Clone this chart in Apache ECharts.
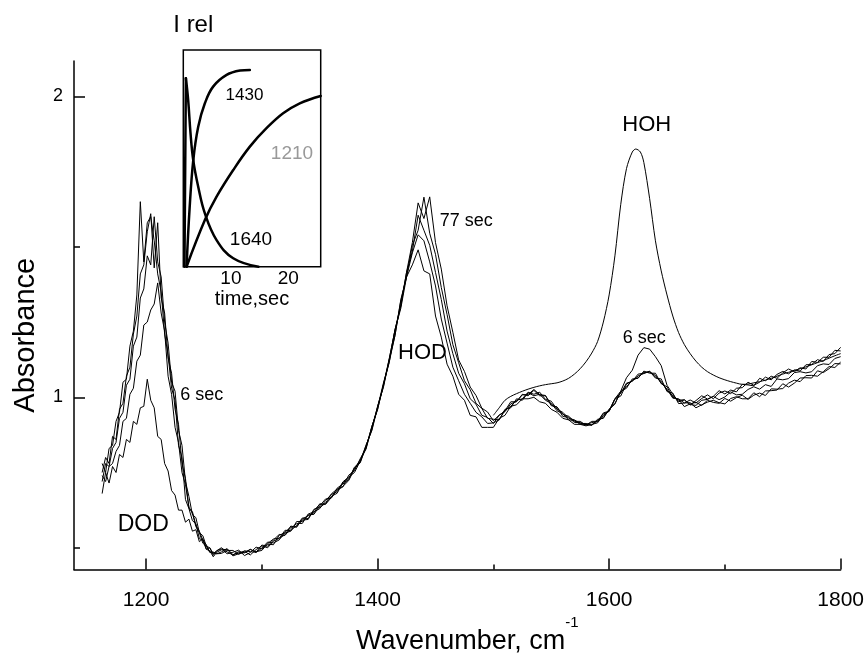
<!DOCTYPE html>
<html>
<head>
<meta charset="utf-8">
<style>
  html, body { margin: 0; padding: 0; background: #fff; }
  #chart { width: 867px; height: 660px; }
</style>
<script src="https://cdn.jsdelivr.net/npm/echarts@6.0.0/dist/echarts.min.js"></script>
</head>
<body>
<div id="chart"></div>
<script>
// ---- Spectra: wavenumber grid (cm-1) ----
// 3 cm-1 steps across the DOD band, 5 cm-1 steps from 1265 to 1800
const wnDod = [1162,1165,1168,1171,1174,1177,1180,1183,1186,1189,
               1192,1195,1198,1201,1204,1207,1210,1213,1216,1219,
               1222,1225,1228,1231,1234,1237,1240,1243,1246,1249,
               1252,1255,1258,1261];
const wnMain = [1265,1270,1275,1280,1285,1290,1295,1300,1305,1310,
                1315,1320,1325,1330,1335,1340,1345,1350,1355,1360,
                1365,1370,1375,1380,1385,1390,1395,1400,1405,1410,
                1415,1420,1425,1430,1435,1440,1445,1450,1455,1460,
                1465,1470,1475,1480,1485,1490,1495,1500,1505,1510,
                1515,1520,1525,1530,1535,1540,1545,1550,1555,1560,
                1565,1570,1575,1580,1585,1590,1595,1600,1605,1610,
                1615,1620,1625,1630,1635,1640,1645,1650,1655,1660,
                1665,1670,1675,1680,1685,1690,1695,1700,1705,1710,
                1715,1720,1725,1730,1735,1740,1745,1750,1755,1760,
                1765,1770,1775,1780,1785,1790,1795,1800];

// ---- Absorbance, spectrum after 6 s ----
const abs06Dod = [.68,.75,.715,.77,.75,.81,.80,.86,.85,.92,
                  .91,.965,.97,1.06,.99,.965,.87,.86,.78,.755,
                  .69,.675,.625,.625,.585,.595,.555,.56,.52,.53,
                  .495,.50,.475,.49];
const abs06Main = [.496,.480,.485,.492,.474,.484,.502,.496,.512,.510,
                   .542,.549,.555,.587,.587,.609,.611,.639,.662,.665,
                   .692,.702,.741,.756,.796,.831,.903,.959,1.043,1.115,
                   1.225,1.295,1.40,1.44,1.49,1.42,1.41,1.27,1.20,1.11,
                   1.07,1.01,.99,.94,.935,.90,.90,.90,.93,.94,
                   .97,.975,.995,.995,1.0,.985,.98,.96,.95,.93,
                   .925,.91,.91,.905,.91,.915,.94,.955,.995,1.02,
                   1.065,1.09,1.14,1.165,1.16,1.135,1.105,1.04,1.01,.985,
                   .991,.974,.989,1.005,.994,1.003,1.022,1.011,1.024,1.018,
                   1.043,1.041,1.038,1.063,1.055,1.070,1.063,1.081,1.094,1.085,
                   1.098,1.094,1.119,1.116,1.133,1.133,1.156,1.154];

// ---- Absorbance, second spectrum ----
const absB_Dod = [.74,.72,.77,.78,.82,.84,.92,.93,1.01,1.03,
                  1.12,1.14,1.24,1.25,1.29,1.31,1.38,1.28,1.22,1.07,
                  1.01,.90,.85,.75,.71,.635,.615,.57,.55,.515,
                  .505,.485,.485,.48];
const absB_Main = [.486,.497,.477,.483,.488,.476,.494,.506,.500,.522,
                   .531,.558,.557,.574,.599,.597,.624,.644,.646,.671,
                   .681,.716,.731,.765,.782,.840,.892,.971,1.033,1.124,
                   1.205,1.32,1.40,1.48,1.54,1.52,1.45,1.37,1.26,1.18,
                   1.10,1.055,1.01,.98,.95,.935,.913,.915,.925,.96,
                   .965,.995,.99,1.015,1.005,1.01,.99,.98,.955,.945,
                   .925,.923,.91,.91,.907,.923,.933,.96,.98,1.017,
                   1.035,1.057,1.065,1.083,1.083,1.073,1.047,1.027,.997,.995,
                   .981,.991,.981,.996,1.008,.995,1.014,1.021,1.012,1.030,
                   1.032,1.050,1.040,1.050,1.067,1.058,1.076,1.086,1.078,1.091,
                   1.087,1.108,1.109,1.125,1.119,1.142,1.145,1.166];

// ---- Absorbance, third spectrum ----
const absC_Dod = [.72,.78,.77,.83,.85,.93,.95,1.04,1.06,1.17,
                  1.20,1.33,1.36,1.47,1.44,1.60,1.45,1.40,1.25,1.18,
                  1.05,1.02,.89,.84,.72,.67,.61,.60,.55,.54,
                  .505,.50,.48,.49];
const absC_Main = [.500,.486,.476,.487,.483,.495,.484,.499,.519,.516,
                   .526,.552,.569,.570,.592,.594,.628,.634,.648,.679,
                   .695,.704,.723,.762,.792,.828,.900,.968,1.036,1.126,
                   1.224,1.306,1.415,1.485,1.605,1.555,1.505,1.415,1.325,1.22,
                   1.145,1.08,1.045,.995,.977,.94,.933,.913,.94,.955,
                   .985,.985,1.01,1.005,1.023,1.005,1.005,.975,.967,.943,
                   .937,.92,.92,.907,.92,.92,.945,.953,.995,1.013,
                   1.047,1.053,1.077,1.08,1.087,1.067,1.053,1.023,1.005,.99,
                   .992,.976,.973,.990,.993,1.003,.992,1.001,1.018,1.008,
                   1.010,1.026,1.035,1.027,1.042,1.036,1.061,1.058,1.062,1.082,
                   1.085,1.081,1.085,1.105,1.111,1.109,1.129,1.135];

// ---- Absorbance, fourth spectrum ----
const absD_Dod = [.75,.80,.78,.87,.86,.96,.98,1.07,1.10,1.21,
                  1.27,1.41,1.44,1.55,1.61,1.43,1.58,1.33,1.28,1.13,
                  1.08,.96,.91,.78,.73,.63,.62,.575,.555,.525,
                  .51,.485,.485,.48];
const absD_Main = [.481,.491,.491,.478,.490,.487,.485,.509,.505,.526,
                   .544,.541,.564,.580,.581,.612,.619,.630,.657,.677,
                   .686,.719,.735,.750,.788,.841,.889,.967,1.047,1.117,
                   1.206,1.324,1.40,1.505,1.555,1.665,1.545,1.475,1.365,1.275,
                   1.175,1.115,1.055,1.025,.98,.963,.93,.927,.925,.957,
                   .97,.99,.995,1.017,1.01,1.017,.993,.987,.96,.95,
                   .93,.925,.913,.913,.907,.927,.93,.96,.977,1.02,
                   1.03,1.061,1.063,1.087,1.08,1.08,1.045,1.035,1.0,.993,
                   .969,.978,.983,.973,.990,.983,.980,.996,.987,.999,
                   1.007,.993,1.007,1.014,1.006,1.028,1.027,1.029,1.047,1.057,
                   1.052,1.072,1.073,1.070,1.085,1.102,1.099,1.117];

// ---- Absorbance, spectrum after 77 s ----
const abs77Dod = [.78,.75,.83,.84,.92,.95,1.05,1.06,1.17,1.22,
                  1.34,1.65,1.45,1.58,1.60,1.52,1.41,1.35,1.21,1.14,
                  1.03,.99,.84,.80,.66,.63,.59,.58,.53,.525,
                  .495,.49,.47,.485];
const abs77Main = [.493,.495,.473,.480,.484,.494,.487,.491,.514,.529,
                   .532,.543,.572,.568,.596,.606,.616,.646,.644,.667,
                   .698,.712,.726,.768,.785,.834,.902,.961,1.041,1.128,
                   1.222,1.302,1.416,1.514,1.646,1.594,1.666,1.514,1.426,1.304,
                   1.216,1.124,1.086,1.034,1.006,.964,.951,.922,.941,.952,
                   .978,.986,1.008,1.009,1.026,1.009,1.006,.972,.968,.936,
                   .934,.916,.916,.909,.916,.919,.948,.954,.994,1.004,
                   1.044,1.054,1.071,1.079,1.086,1.064,1.061,1.019,1.014,.979,
                   .981,.982,.965,.975,.984,.990,.982,.978,.996,1.002,
                   .995,.995,1.015,1.002,1.021,1.022,1.024,1.045,1.034,1.047,
                   1.064,1.065,1.064,1.088,1.082,1.095,1.112,1.111];

// ---- Liquid H2O reference spectrum (HOH bending band) ----
const hohWn = [1500,1505,1510,1515,1520,1525,1530,1535,1540,1545,
               1550,1555,1560,1565,1570,1575,1580,1585,1590,1595,
               1600,1605,1610,1615,1620,1623,1627,1630,1635,1640,
               1645,1650,1655,1660,1665,1670,1675,1680,1685,1690,
               1695,1700,1705,1710,1715,1720,1725,1730,1735,1740,
               1745,1750,1755,1760,1765,1770,1775,1780,1785,1790,
               1795,1800];
const hohAbs = [.94,.965,.99,1.003,1.012,1.02,1.027,1.033,1.038,1.042,
                1.045,1.048,1.054,1.063,1.077,1.095,1.118,1.147,1.185,1.25,
                1.34,1.47,1.64,1.76,1.815,1.825,1.815,1.78,1.66,1.52,
                1.42,1.34,1.27,1.215,1.175,1.145,1.12,1.10,1.085,1.074,
                1.065,1.058,1.052,1.047,1.043,1.044,1.048,1.052,1.057,1.063,
                1.07,1.077,1.083,1.089,1.095,1.101,1.108,1.115,1.122,1.13,
                1.138,1.145];

// ---- Inset: relative band intensities vs time (s) ----
const t1430 = [2.27, 2.8, 3.43, 4.3, 5.46, 6.9, 9.25, 11.6, 13.3];
const i1430 = [0, 0.27, 0.49, 0.646, 0.754, 0.831, 0.885, 0.905, 0.908];
const t1640 = [1.9, 2.15, 2.55, 2.96, 3.43, 4.3, 5.46, 7.5, 10.4, 14.8];
const i1640 = [0, 0.87, 0.769, 0.615, 0.492, 0.369, 0.246, 0.123, 0.039, 0];
const t1210 = [2.27, 5.46, 7.5, 10.4, 13.3, 16.2, 19.1, 22.0, 25.65];
const i1210 = [0, 0.215, 0.323, 0.446, 0.554, 0.639, 0.708, 0.754, 0.788];

// Axis ticks
const wnMajorTicks = [1200, 1400, 1600, 1800];
const wnMinorTicks = [1300, 1500, 1700];
const absMajorTicks = [1, 2];
const absMinorTicks = [0.5, 1.5];
const timeTicks = [10, 20];

function pairs(xs, ys) {
  if (xs.length !== ys.length) {
    throw new Error('length mismatch: ' + xs.length + ' vs ' + ys.length);
  }
  return xs.map((x, i) => [x, ys[i]]);
}

const wnAll = wnDod.concat(wnMain);
const FONT = "'Liberation Sans', Arial, Helvetica, sans-serif";
const plain = v => String(v);

function spectrum(name, dod, main) {
  return {
    name: name, type: 'line', xAxisIndex: 0, yAxisIndex: 0,
    data: pairs(wnAll, dod.concat(main)),
    showSymbol: false, symbol: 'none',
    lineStyle: { color: '#000', width: 1 },
    z: 2
  };
}
function kinetic(name, data, smooth) {
  return {
    name: name, type: 'line', xAxisIndex: 2, yAxisIndex: 2,
    data: data, smooth: smooth,
    showSymbol: false, symbol: 'none',
    lineStyle: { color: '#000', width: 2.5, cap: 'round', join: 'round' },
    z: 6
  };
}
function label(text, x, y, size, color) {
  return {
    type: 'text', z: 10,
    style: {
      text: text, x: x, y: y,
      fill: color || '#000',
      fontSize: size, fontFamily: FONT,
      textAlign: 'center', align: 'center',
      textVerticalAlign: 'middle', verticalAlign: 'middle'
    }
  };
}

// 1640 band: the jump at the start is drawn straight, the decay smoothed
const k1640 = pairs(t1640, i1640);

const chart = echarts.init(document.getElementById('chart'), null, { renderer: 'canvas' });

const axisLineStyle = { color: '#000', width: 1.5 };

chart.setOption({
  animation: false,
  backgroundColor: '#fff',
  grid: [
    { left: 74, top: 61, width: 769.5, height: 517.3, show: false },
    { left: 183.3, top: 50, width: 137.4, height: 216.7, show: true,
      borderColor: '#000', borderWidth: 1.5, backgroundColor: '#fff', z: 4 }
  ],
  xAxis: [
    {
      type: 'value', gridIndex: 0, position: 'bottom',
      min: 1137.7, max: 1800,
      axisLine: { lineStyle: axisLineStyle },
      axisTick: { inside: true, length: 11, customValues: wnMajorTicks, lineStyle: axisLineStyle },
      axisLabel: { customValues: wnMajorTicks, formatter: plain, fontSize: 21, fontFamily: FONT, color: '#000', margin: 20 },
      splitLine: { show: false },
      name: '{t|Wavenumber, cm}{s|-1}',
      nameLocation: 'middle', nameGap: 46,
      nameTextStyle: {
        padding: [0, 0, 0, 20],
        rich: {
          t: { fontSize: 27, fontFamily: FONT, color: '#000', lineHeight: 52 },
          s: { fontSize: 15, fontFamily: FONT, color: '#000', lineHeight: 15, verticalAlign: 'top' }
        }
      }
    },
    {
      type: 'value', gridIndex: 0, position: 'bottom',
      min: 1137.7, max: 1800,
      axisLine: { show: false },
      axisTick: { inside: true, length: 5, customValues: wnMinorTicks, lineStyle: axisLineStyle },
      axisLabel: { show: false },
      splitLine: { show: false }
    },
    {
      type: 'value', gridIndex: 1, position: 'bottom',
      min: 1.7, max: 25.65,
      axisLine: { show: false },
      axisTick: { inside: true, length: 4, customValues: timeTicks, lineStyle: { color: '#000', width: 1.2 } },
      axisLabel: { customValues: timeTicks, formatter: plain, fontSize: 19, fontFamily: FONT, color: '#000', margin: 3 },
      splitLine: { show: false },
      name: 'time,sec', nameLocation: 'middle', nameGap: 17,
      nameTextStyle: { fontSize: 20, fontFamily: FONT, color: '#000' }
    }
  ],
  yAxis: [
    {
      type: 'value', gridIndex: 0, position: 'left',
      min: 0.4277, max: 2.1175,
      axisLine: { show: true, lineStyle: axisLineStyle },
      axisTick: { show: true, inside: true, length: 11, customValues: absMajorTicks, lineStyle: axisLineStyle },
      axisLabel: { customValues: absMajorTicks, formatter: plain, fontSize: 18, fontFamily: FONT, color: '#000', margin: 11 },
      splitLine: { show: false },
      name: 'Absorbance', nameLocation: 'middle', nameGap: 34,
      nameTextStyle: { fontSize: 29, fontFamily: FONT, color: '#000', padding: [0, 40, 0, 0] }
    },
    {
      type: 'value', gridIndex: 0, position: 'left',
      min: 0.4277, max: 2.1175,
      axisLine: { show: false },
      axisTick: { show: true, inside: true, length: 6, customValues: absMinorTicks, lineStyle: axisLineStyle },
      axisLabel: { show: false },
      splitLine: { show: false }
    },
    {
      type: 'value', gridIndex: 1, min: 0, max: 1,
      axisLine: { show: false },
      axisTick: { show: false },
      axisLabel: { show: false },
      splitLine: { show: false }
    }
  ],
  series: [
    spectrum('6 sec', abs06Dod, abs06Main),
    spectrum('spectrum B', absB_Dod, absB_Main),
    spectrum('spectrum C', absC_Dod, absC_Main),
    spectrum('spectrum D', absD_Dod, absD_Main),
    spectrum('77 sec', abs77Dod, abs77Main),
    {
      name: 'HOH', type: 'line', xAxisIndex: 0, yAxisIndex: 0,
      data: pairs(hohWn, hohAbs), smooth: 0.3,
      showSymbol: false, symbol: 'none',
      lineStyle: { color: '#000', width: 1 }, z: 2
    },
    kinetic('1430', pairs(t1430, i1430), 0.4),
    kinetic('1640 rise', k1640.slice(0, 2), false),
    kinetic('1640', k1640.slice(1), 0.4),
    kinetic('1210', pairs(t1210, i1210), 0.4)
  ],
  graphic: [
    label('I rel', 193.3, 25, 24),
    label('1430', 244.5, 95.5, 17),
    label('1210', 292, 154, 19, '#999'),
    label('1640', 251, 240, 19),
    label('DOD', 143.3, 525, 23),
    label('6 sec', 201.7, 395.5, 18),
    label('HOD', 422.5, 352.5, 22),
    label('77 sec', 466.3, 220.8, 18),
    label('HOH', 646.7, 124.5, 22),
    label('6 sec', 644.2, 338.3, 18)
  ]
});
</script>
</body>
</html>
